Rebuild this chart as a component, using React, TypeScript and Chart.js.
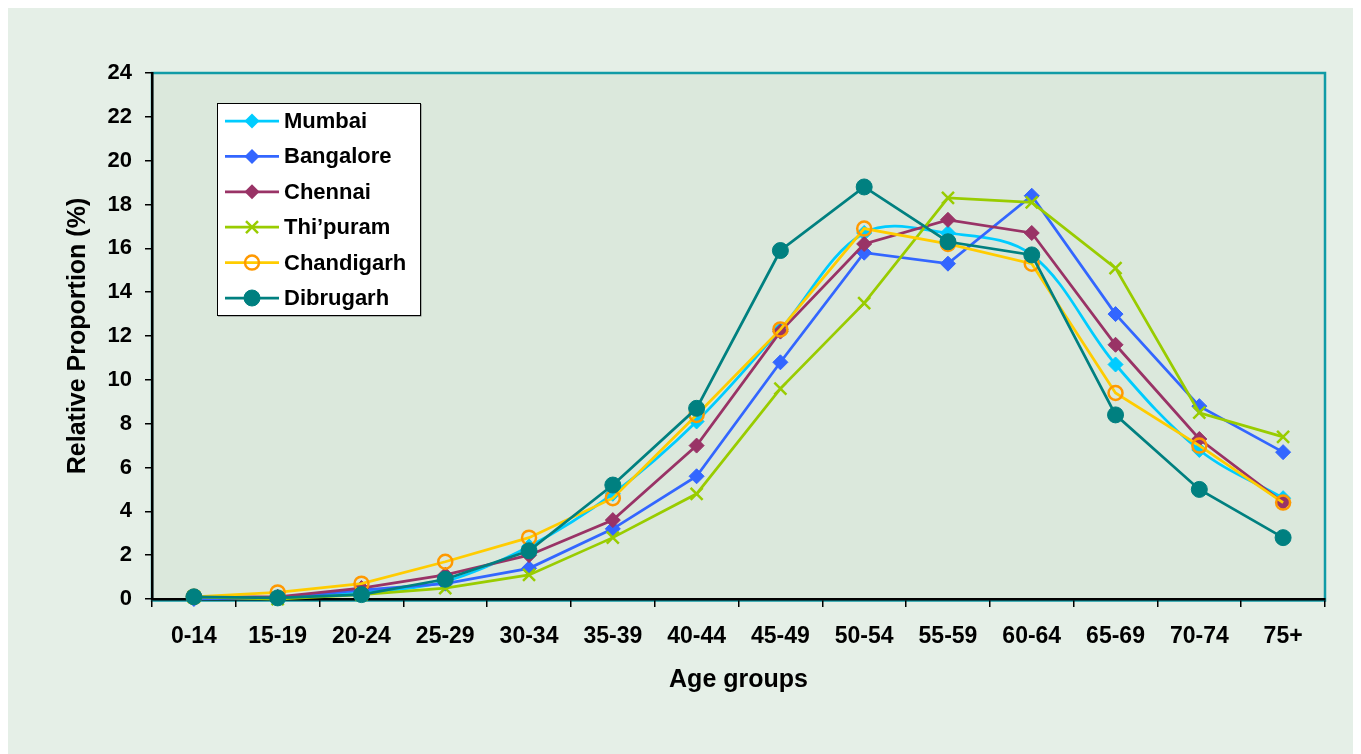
import React, { useEffect, useRef } from "react";
import { Chart, registerables } from "chart.js";

Chart.register(...registerables);

const categories = ["0-14", "15-19", "20-24", "25-29", "30-34", "35-39", "40-44", "45-49", "50-54", "55-59", "60-64", "65-69", "70-74", "75+"];
const mumbai = [0.1, 0.05, 0.3, 0.8, 2.4, 4.8, 8.1, 12.3, 16.7, 16.7, 15.7, 10.7, 6.8, 4.6];
const bangalore = [0.0, 0.05, 0.4, 0.7, 1.4, 3.2, 5.6, 10.8, 15.8, 15.3, 18.4, 13.0, 8.8, 6.7];
const chennai = [0.1, 0.1, 0.5, 1.1, 2.0, 3.6, 7.0, 12.2, 16.2, 17.3, 16.7, 11.6, 7.3, 4.4];
const thipuram = [0.1, 0.0, 0.2, 0.5, 1.1, 2.8, 4.8, 9.6, 13.5, 18.3, 18.1, 15.1, 8.5, 7.4];
const chandigarh = [0.1, 0.3, 0.7, 1.7, 2.8, 4.6, 8.4, 12.3, 16.9, 16.2, 15.3, 9.4, 7.0, 4.4];
const dibrugarh = [0.1, 0.05, 0.2, 0.9, 2.2, 5.2, 8.7, 15.9, 18.8, 16.3, 15.7, 8.4, 5.0, 2.8];

const seriesNames = ["Mumbai", "Bangalore", "Chennai", "Thi\u2019puram", "Chandigarh", "Dibrugarh"];
const yTicks = [0, 2, 4, 6, 8, 10, 12, 14, 16, 18, 20, 22, 24];

const FONT = "'Liberation Sans', Arial, sans-serif";
const OUTER_BG = "#E5EFE7";
const PLOT_BG = "#DBE8DC";
const TEAL = "#109BA6";

function drawMarker(ctx: CanvasRenderingContext2D, style: string, x: number, y: number, r: number, fill: string, stroke: string, lw: number) {
  ctx.save();
  ctx.beginPath();
  ctx.lineWidth = lw;
  ctx.strokeStyle = stroke;
  ctx.fillStyle = fill;
  if (style === "rectRot") {
    ctx.moveTo(x - r, y);
    ctx.lineTo(x, y - r);
    ctx.lineTo(x + r, y);
    ctx.lineTo(x, y + r);
    ctx.closePath();
    ctx.fill();
  } else if (style === "circle") {
    ctx.arc(x, y, r, 0, Math.PI * 2);
    ctx.closePath();
    if (fill !== "transparent") ctx.fill();
    ctx.stroke();
  } else if (style === "crossRot") {
    const d = r * Math.SQRT1_2;
    ctx.moveTo(x - d, y - d);
    ctx.lineTo(x + d, y + d);
    ctx.moveTo(x + d, y - d);
    ctx.lineTo(x - d, y + d);
    ctx.stroke();
  }
  ctx.restore();
}

const plotBgPlugin = {
  id: "plotBg",
  beforeDraw(chart: any) {
    const { ctx, chartArea } = chart;
    ctx.save();
    ctx.fillStyle = PLOT_BG;
    ctx.fillRect(chartArea.left, chartArea.top, chartArea.right - chartArea.left, chartArea.bottom - chartArea.top);
    ctx.strokeStyle = TEAL;
    ctx.lineWidth = 2.5;
    ctx.strokeRect(chartArea.left, chartArea.top, chartArea.right - chartArea.left, chartArea.bottom - chartArea.top + 1.5);
    ctx.restore();
  },
};

const legendPlugin = {
  id: "boxLegend",
  afterDraw(chart: any) {
    const { ctx } = chart;
    const bx = 209, by = 95, bw = 203, bh = 212;
    ctx.save();
    ctx.fillStyle = "#777777";
    ctx.fillRect(bx + 1, by + 1, bw + 0.5, bh + 0.5);
    ctx.fillStyle = "#FFFFFF";
    ctx.fillRect(bx, by, bw, bh);
    ctx.strokeStyle = "#000000";
    ctx.lineWidth = 1;
    ctx.strokeRect(bx + 0.5, by + 0.5, bw, bh);
    chart.data.datasets.forEach((ds: any, i: number) => {
      const cy = by + 18 + i * 35.4;
      ctx.beginPath();
      ctx.strokeStyle = ds.borderColor;
      ctx.lineWidth = ds.borderWidth;
      ctx.moveTo(bx + 8, cy);
      ctx.lineTo(bx + 62, cy);
      ctx.stroke();
      drawMarker(ctx, ds.pointStyle, bx + 35, cy, ds.pointRadius, ds.pointBackgroundColor, ds.pointBorderColor, ds.pointBorderWidth);
      ctx.fillStyle = "#000000";
      ctx.font = `bold 22px ${FONT}`;
      ctx.textBaseline = "middle";
      ctx.textAlign = "left";
      ctx.fillText(ds.label, bx + 67, cy + 1);
    });
    ctx.restore();
  },
};

export default function App() {
  const ref = useRef<HTMLCanvasElement | null>(null);

  useEffect(() => {
    if (!ref.current) return;
    const mk = (i: number, data: number[], color: string, style: string, radius: number, extra: any = {}) => ({
      label: seriesNames[i],
      data,
      borderColor: color,
      backgroundColor: color,
      borderWidth: 2.75,
      pointStyle: style,
      pointRadius: radius,
      pointHoverRadius: radius,
      pointBackgroundColor: color,
      pointBorderColor: color,
      pointBorderWidth: 1,
      tension: 0,
      clip: false,
      order: 5 - i,
      ...extra,
    });
    const chart = new Chart(ref.current, {
      type: "line",
      data: {
        labels: categories,
        datasets: [
          mk(0, mumbai, "#00CCFF", "rectRot", 7.5, { tension: 0.35 }),
          mk(1, bangalore, "#3366FF", "rectRot", 7.5),
          mk(2, chennai, "#993366", "rectRot", 7.5),
          mk(3, thipuram, "#99CC00", "crossRot", 8.5, { pointBorderWidth: 2.5 }),
          mk(4, chandigarh, "#FFCC00", "circle", 7, { pointBackgroundColor: "transparent", pointBorderColor: "#FF9900", pointBorderWidth: 2.5 }),
          mk(5, dibrugarh, "#008080", "circle", 8),
        ] as any,
      },
      options: {
        animation: false,
        responsive: false,
        devicePixelRatio: 1,
        layout: { padding: { left: 56, top: 65, right: 36, bottom: 61 } },
        plugins: { legend: { display: false }, tooltip: { enabled: false } },
        scales: {
          x: {
            type: "category",
            offset: true,
            afterFit: (s: any) => { s.height = 94; },
            grid: { offset: true, drawOnChartArea: false, drawTicks: true, tickLength: 8, color: "#000000", lineWidth: 1.5 },
            border: { display: true, color: "#000000", width: 2.5 },
            ticks: { color: "#000000", padding: 16, maxRotation: 0, autoSkip: false, font: { family: FONT, size: 23, weight: "bold" } },
            title: { display: true, text: "Age groups", color: "#000000", padding: { top: 0, bottom: 0 }, font: { family: FONT, size: 25, weight: "bold", lineHeight: 1.0 } },
          },
          y: {
            min: 0,
            max: 24,
            afterFit: (s: any) => { s.width = 88; },
            afterBuildTicks: (s: any) => { s.ticks = yTicks.map((v) => ({ value: v })); },
            grid: { drawOnChartArea: false, drawTicks: true, tickLength: 7, color: "#000000", lineWidth: 1.5 },
            border: { display: true, color: "#000000", width: 2.5 },
            ticks: { color: "#000000", padding: 13, font: { family: FONT, size: 22, weight: "bold" } },
            title: { display: true, text: "Relative Proportion (%)", color: "#000000", padding: { top: 0, bottom: 0 }, font: { family: FONT, size: 25, weight: "bold", lineHeight: 1.1 } },
          },
        },
      } as any,
      plugins: [plotBgPlugin, legendPlugin],
    });
    return () => chart.destroy();
  }, []);

  return (
    <div style={{ width: 1353, height: 746, background: OUTER_BG, position: "relative" }}>
      <canvas ref={ref} width={1353} height={746} style={{ display: "block" }} />
    </div>
  );
}
